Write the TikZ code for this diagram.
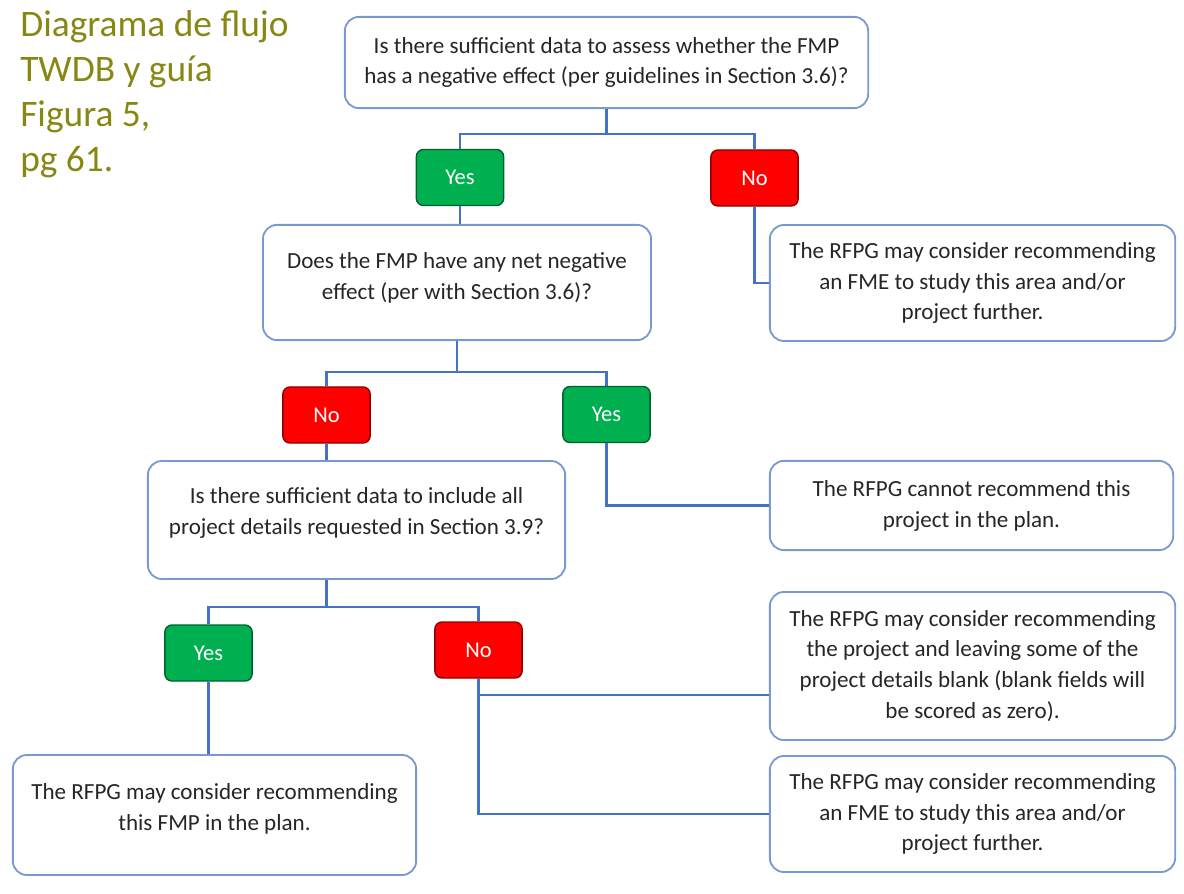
\documentclass[tikz,border=0pt]{standalone}
\usepackage{fontspec}
\setmainfont{Carlito}
\usepackage{tikz}

\definecolor{olivetitle}{RGB}{135,135,20}
\definecolor{boxline}{RGB}{122,153,211}
\definecolor{linkblue}{RGB}{68,114,196}
\definecolor{yesgreen}{RGB}{0,176,80}
\definecolor{nored}{RGB}{255,0,0}
\definecolor{bodytext}{RGB}{38,38,38}

\tikzset{
  qbox/.style={draw=boxline, line width=1.3pt, fill=white, rounded corners=10pt,
    align=center, text=bodytext, font=\fontsize{16.4}{22}\selectfont},
  yesbox/.style={draw=yesgreen!55!black, line width=1pt, fill=yesgreen,
    rounded corners=5pt, text=white, minimum width=2.18cm, minimum height=1.4cm,
    font=\fontsize{16}{19}\selectfont},
  nobox/.style={yesbox, draw=nored!55!black, fill=nored},
  link/.style={draw=linkblue, line width=1.8pt}
}

\begin{document}
\begin{tikzpicture}[x=0.025cm, y=-0.025cm]
\useasboundingbox (0,0) rectangle (1184,894);

% title
\node[anchor=north west, align=left, inner sep=0pt, text=olivetitle,
  font=\fontsize{26.6}{32}\selectfont] (title) at (20,10)
  {Diagrama de flujo\\TWDB y guía\\Figura 5,\\pg 61.};

% first question
\node[qbox, minimum width=13.08cm, minimum height=2.28cm] (q1) at (606.5,62.5)
  {Is there sufficient data to assess whether the FMP\\has a negative effect (per guidelines in Section 3.6)?};
\node[yesbox] (yes1) at (460,177.5) {Yes};
\node[nobox] (no1) at (754.5,178) {No};
\node[qbox, minimum width=10.13cm, minimum height=2.9cm] (r1) at (972.5,283)
  {The RFPG may consider recommending\\an FME to study this area and/or\\project further.};

% second question
\node[qbox, minimum width=9.7cm, minimum height=2.88cm] (q2) at (457,282.5)
  {Does the FMP have any net negative\\effect (per with Section 3.6)?\\[-12.4pt]};
\node[nobox] (no2) at (326.5,415) {No};
\node[yesbox] (yes2) at (606.5,414.5) {Yes};
\node[qbox, minimum width=10.08cm, minimum height=2.23cm] (r2) at (971.5,505.5)
  {The RFPG cannot recommend this\\project in the plan.};

% third question
\node[qbox, minimum width=10.43cm, minimum height=2.95cm] (q3) at (356.5,520)
  {Is there sufficient data to include all\\project details requested in Section 3.9?\\[-9.6pt]};
\node[yesbox] (yes3) at (208.5,653) {Yes};
\node[nobox] (no3) at (478.5,650) {No};
\node[qbox, minimum width=10.08cm, minimum height=3cm] (r3) at (214.5,815)
  {The RFPG may consider recommending\\this FMP in the plan.\\[-10pt]};
\node[qbox, minimum width=10.13cm, minimum height=3.7cm] (r4) at (972.5,666)
  {The RFPG may consider recommending\\the project and leaving some of the\\project details blank (blank fields will\\be scored as zero).};
\node[qbox, minimum width=10.13cm, minimum height=2.9cm] (r5) at (972.5,814)
  {The RFPG may consider recommending\\an FME to study this area and/or\\project further.};

% connectors
\draw[link] (q1.south) -- ++(0,25) -| (yes1.north);
\draw[link] (q1.south) ++(0,25) -| (no1.north);
\draw[link] (yes1.south) -- (yes1.south |- q2.north);
\draw[link] (no1.south) |- (r1.west);
\draw[link] (q2.south) -- ++(0,31) -| (no2.north);
\draw[link] (q2.south) ++(0,31) -| (yes2.north);
\draw[link] (no2.south) -- (no2.south |- q3.north);
\draw[link] (yes2.south) |- (r2.west);
\draw[link] (q3.south -| no2.south) -- ++(0,27) -| (yes3.north);
\draw[link] (q3.south -| no2.south) ++(0,27) -| (no3.north);
\draw[link] (yes3.south) -- (yes3.south |- r3.north);
\draw[link] (no3.south) |- ([yshift=-7.25mm]r4.west);
\draw[link] (no3.south) |- (r5.west);
\end{tikzpicture}
\end{document}
